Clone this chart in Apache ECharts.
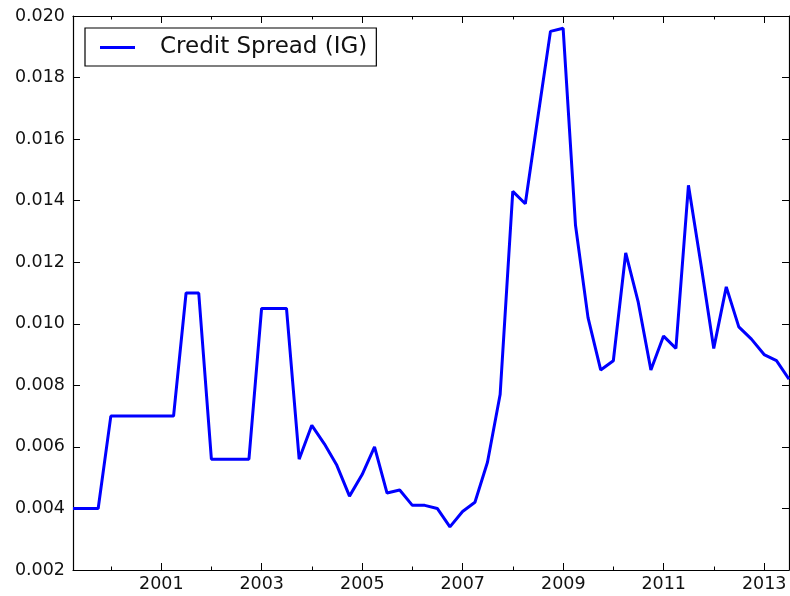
<!DOCTYPE html>
<html>
<head>
<meta charset="utf-8">
<title>Credit Spread (IG)</title>
<script src="https://cdn.jsdelivr.net/npm/echarts@6/dist/echarts.min.js"></script>
<style>
  html, body { margin: 0; padding: 0; background: #fff; }
  #chart { width: 790px; height: 596px; }
</style>
</head>
<body>
<div id="chart"></div>
<script>
// Quarter-end observation dates
const dates = [
  '1999-03-31','1999-06-30','1999-09-30','1999-12-31',
  '2000-03-31','2000-06-30','2000-09-30','2000-12-31',
  '2001-03-31','2001-06-30','2001-09-30','2001-12-31',
  '2002-03-31','2002-06-30','2002-09-30','2002-12-31',
  '2003-03-31','2003-06-30','2003-09-30','2003-12-31',
  '2004-03-31','2004-06-30','2004-09-30','2004-12-31',
  '2005-03-31','2005-06-30','2005-09-30','2005-12-31',
  '2006-03-31','2006-06-30','2006-09-30','2006-12-31',
  '2007-03-31','2007-06-30','2007-09-30','2007-12-31',
  '2008-03-31','2008-06-30','2008-09-30','2008-12-31',
  '2009-03-31','2009-06-30','2009-09-30','2009-12-31',
  '2010-03-31','2010-06-30','2010-09-30','2010-12-31',
  '2011-03-31','2011-06-30','2011-09-30','2011-12-31',
  '2012-03-31','2012-06-30','2012-09-30','2012-12-31',
  '2013-03-31','2013-06-30'
];

// Investment-grade credit spread
const spreadIG = [
  0.0040, 0.0040, 0.0040, 0.0070,
  0.0070, 0.0070, 0.0070, 0.0070,
  0.0070, 0.0110, 0.0110, 0.0056,
  0.0056, 0.0056, 0.0056, 0.0105,
  0.0105, 0.0105, 0.0056, 0.0067,
  0.0061, 0.0054, 0.0044, 0.0051,
  0.0060, 0.0045, 0.0046, 0.0041,
  0.0041, 0.0040, 0.0034, 0.0039,
  0.0042, 0.0055, 0.0077, 0.0143,
  0.0139, 0.0167, 0.0195, 0.0196,
  0.0132, 0.0102, 0.0085, 0.0088,
  0.0123, 0.0107, 0.0085, 0.0096,
  0.0092, 0.0145, 0.0119, 0.0092,
  0.0112, 0.0099, 0.0095, 0.0090,
  0.0088, 0.0082
];

// Axis tick years: labelled (major) and unlabelled (minor)
const majorYears = [2001, 2003, 2005, 2007, 2009, 2011, 2013];
const minorYears = [2000, 2002, 2004, 2006, 2008, 2010, 2012];

const yMin = 0.002, yMax = 0.020, yStep = 0.002;

function toTime(s) {
  const p = s.split('-').map(Number);
  return Date.UTC(p[0], p[1] - 1, p[2]);
}
function yearStart(y) { return Date.UTC(y, 0, 1); }

const points = dates.map((d, i) => [toTime(d), spreadIG[i]]);
const xMin = toTime(dates[0]);
const xMax = toTime(dates[dates.length - 1]);

const FONT = 'DejaVu Sans';
const AXIS_COLOR = '#000';

// Date axis drawn as a numeric (ms) axis so tick positions can be set per year
function xAxisDef(position, years, tickLen, withLine, withLabels) {
  return {
    type: 'value',
    position: position,
    min: xMin,
    max: xMax,
    axisLine: { show: withLine, onZero: false, lineStyle: { color: AXIS_COLOR, width: 1.2 } },
    axisTick: { show: true, inside: true, length: tickLen, customValues: years.map(yearStart),
                lineStyle: { color: AXIS_COLOR, width: 1 } },
    axisLabel: withLabels ? {
      show: true, customValues: years.map(yearStart), margin: 5,
      fontFamily: FONT, fontSize: 17.5, color: '#111',
      formatter: v => String(new Date(v).getUTCFullYear())
    } : { show: false },
    splitLine: { show: false }
  };
}

function yAxisDef(position, withLabels) {
  return {
    type: 'value',
    position: position,
    min: yMin,
    max: yMax,
    interval: yStep,
    axisLine: { show: true, onZero: false, lineStyle: { color: AXIS_COLOR, width: 1.2 } },
    axisTick: { show: true, inside: true, length: 7, lineStyle: { color: AXIS_COLOR, width: 1 } },
    axisLabel: withLabels ? {
      show: true, margin: 8, fontFamily: FONT, fontSize: 17.5, color: '#111',
      formatter: v => v.toFixed(3)
    } : { show: false },
    splitLine: { show: false }
  };
}

const chart = echarts.init(document.getElementById('chart'), null, { renderer: 'canvas' });

chart.setOption({
  animation: false,
  backgroundColor: '#fff',
  grid: { left: 73, right: 1, top: 16, bottom: 26, containLabel: false },
  xAxis: [
    xAxisDef('bottom', majorYears, 7, true, true),
    xAxisDef('bottom', minorYears, 3.5, false, false),
    xAxisDef('top', majorYears, 7, true, false),
    xAxisDef('top', minorYears, 3.5, false, false)
  ],
  yAxis: [
    yAxisDef('left', true),
    yAxisDef('right', false)
  ],
  legend: {
    left: 85,
    top: 28,
    orient: 'horizontal',
    backgroundColor: '#fff',
    borderColor: '#000',
    borderWidth: 1.2,
    borderRadius: 0,
    padding: [8, 9, 7, 15],
    icon: 'rect',
    itemWidth: 35,
    itemHeight: 3,
    textStyle: { fontFamily: FONT, fontSize: 23, color: '#111', padding: [0, 0, 0, 20] },
    data: [{ name: 'Credit Spread (IG)' }]
  },
  series: [{
    name: 'Credit Spread (IG)',
    type: 'line',
    xAxisIndex: 0,
    yAxisIndex: 0,
    data: points,
    symbol: 'none',
    showSymbol: false,
    lineStyle: { color: '#0000ff', width: 3 },
    itemStyle: { color: '#0000ff' },
    z: 3
  }]
});
</script>
</body>
</html>
